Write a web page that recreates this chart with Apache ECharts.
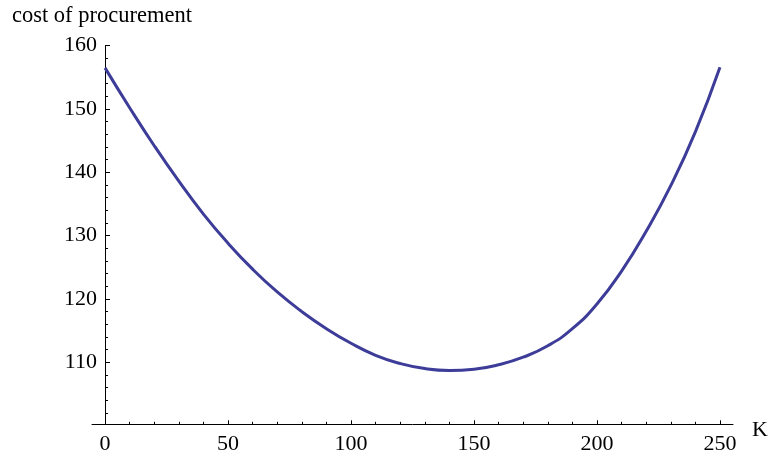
<!DOCTYPE html>
<html>
<head>
<meta charset="utf-8">
<script src="https://cdn.jsdelivr.net/npm/echarts@6/dist/echarts.min.js"></script>
<style>
html, body { margin: 0; padding: 0; background: #fff; }
#chart { width: 771px; height: 457px; }
</style>
</head>
<body>
<div id="chart"></div>
<script>
// K values and cost
var kValues = [0, 10, 20, 30, 40, 50, 60, 70, 80, 90, 100, 110, 120, 130, 140, 150, 160, 170, 180, 190, 200, 210, 220, 230, 240, 250];
var cost = [156.5, 150.2, 144.2, 138.6, 133.4, 128.8, 124.7, 121.1, 118.0, 115.3, 113.0, 111.1, 109.8, 109.0, 108.7, 108.9, 109.6, 110.8, 112.6, 115.3, 119.2, 124.4, 130.7, 137.9, 146.4, 156.6];
var xMajor = [0, 50, 100, 150, 200, 250];
var xMinor = [10, 20, 30, 40, 60, 70, 80, 90, 110, 120, 130, 140, 160, 170, 180, 190, 210, 220, 230, 240];
var yMajor = [110, 120, 130, 140, 150, 160];
var yMinor = [102, 104, 106, 108, 112, 114, 116, 118, 122, 124, 126, 128, 132, 134, 136, 138, 142, 144, 146, 148, 152, 154, 156, 158];

var font = "'Liberation Serif', 'DejaVu Serif', serif";
var axisCol = "#000";

var myChart = echarts.init(document.getElementById("chart"));

var option = {
	animation: false,
	grid: { left: 92, right: 38, top: 45.7, bottom: 32.7, containLabel: false },
	xAxis: [{
		type: "value", min: -5.3, max: 255.3, position: "bottom",
		axisLine: { onZero: false, lineStyle: { color: axisCol, width: 1 } },
		axisTick: { inside: true, length: 4, customValues: xMajor, lineStyle: { color: axisCol } },
		axisLabel: { customValues: xMajor, color: "#000", fontFamily: font, fontSize: 22, margin: 9 },
		splitLine: { show: false }
	}, {
		type: "value", min: -5.3, max: 255.3, position: "bottom",
		axisLine: { show: false, onZero: false },
		axisTick: { inside: true, length: 2.5, customValues: xMinor, lineStyle: { color: axisCol } },
		axisLabel: { show: false },
		splitLine: { show: false }
	}],
	yAxis: [{
		type: "value", min: 100.2, max: 160, position: "left", offset: -13,
		axisLine: { show: true, onZero: false, lineStyle: { color: axisCol, width: 1 } },
		axisTick: { show: true, inside: true, length: 5, customValues: yMajor, lineStyle: { color: axisCol } },
		axisLabel: { customValues: yMajor, color: "#000", fontFamily: font, fontSize: 22, margin: 8 },
		splitLine: { show: false }
	}, {
		type: "value", min: 100.2, max: 160, position: "left", offset: -13,
		axisLine: { show: false, onZero: false },
		axisTick: { show: true, inside: true, length: 3, customValues: yMinor, lineStyle: { color: axisCol } },
		axisLabel: { show: false },
		splitLine: { show: false }
	}],
	graphic: [
		{ type: "text", left: 12, top: 5, style: { text: "cost of procurement", font: "22.5px " + font, fill: "#000" } },
		{ type: "text", left: 752, top: 419, style: { text: "K", font: "22px " + font, fill: "#000" } }
	],
	series: [{
		type: "line",
		xAxisIndex: 0,
		yAxisIndex: 0,
		smooth: true,
		showSymbol: false,
		data: kValues.map(function(k, i) { return [k, cost[i]]; }),
		lineStyle: { color: "#3d3d99", width: 3 },
		itemStyle: { color: "#3d3d99" }
	}]
};
myChart.setOption(option);
</script>
</body>
</html>
